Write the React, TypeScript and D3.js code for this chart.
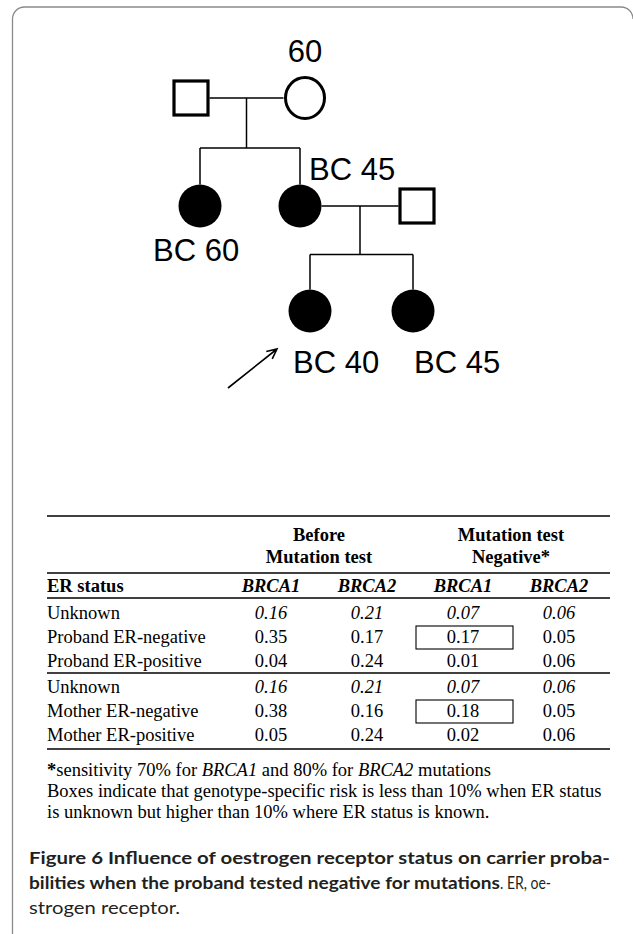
import React from "react";
import * as d3 from "d3";

// ---------- pedigree data ----------
const people = [
  { id: "gf", sex: "M", affected: false, label: "" },
  { id: "gm", sex: "F", affected: false, label: "60" },
  { id: "aunt", sex: "F", affected: true, label: "BC 60" },
  { id: "mother", sex: "F", affected: true, label: "BC 45" },
  { id: "father", sex: "M", affected: false, label: "" },
  { id: "proband", sex: "F", affected: true, label: "BC 40" },
  { id: "sister", sex: "F", affected: true, label: "BC 45" },
];
const couples = [
  { a: "gf", b: "gm", kids: ["aunt", "mother"] },
  { a: "mother", b: "father", kids: ["proband", "sister"] },
];
const probandId = "proband";

// ---------- table data ----------
const groupHeaders = [
  ["Before", "Mutation test"],
  ["Mutation test", "Negative*"],
];
const firstColHeader = "ER status";
const geneHeaders = ["BRCA1", "BRCA2", "BRCA1", "BRCA2"];
const rowLabels = [
  "Unknown",
  "Proband ER-negative",
  "Proband ER-positive",
  "Unknown",
  "Mother ER-negative",
  "Mother ER-positive",
];
const beforeBRCA1 = [0.16, 0.35, 0.04, 0.16, 0.38, 0.05];
const beforeBRCA2 = [0.21, 0.17, 0.24, 0.21, 0.16, 0.24];
const negBRCA1 = [0.07, 0.17, 0.01, 0.07, 0.18, 0.02];
const negBRCA2 = [0.06, 0.05, 0.06, 0.06, 0.05, 0.06];
const italicRows = [true, false, false, true, false, false];
const boxedCells = [
  [1, 2],
  [4, 2],
];

const footLines = [
  [
    { t: "*", b: true },
    { t: "sensitivity 70% for " },
    { t: "BRCA1", i: true },
    { t: " and 80% for " },
    { t: "BRCA2", i: true },
    { t: " mutations" },
  ],
  [{ t: "Boxes indicate that genotype-specific risk is less than 10% when ER status" }],
  [{ t: "is unknown but higher than 10% where ER status is known." }],
];

const captionBold1 = "Figure 6 Influence of oestrogen receptor status on carrier proba-";
const captionBold2 = "bilities when the proband tested negative for mutations";
const captionReg2 = ". ER, oe-";
const captionReg3 = "strogen receptor.";

// ---------- layout (abstract units -> scales) ----------
const layoutUnits: Record<string, [number, number]> = {
  gf: [0.91, 0],
  gm: [2.05, 0],
  aunt: [1.0, 1],
  mother: [2.0, 1],
  father: [3.17, 1],
  proband: [2.1, 2],
  sister: [3.13, 2],
};
const labelPlacement: Record<string, { dx: number; dy: number; anchor: string }> = {
  gm: { dx: 0, dy: -36, anchor: "middle" },
  aunt: { dx: -47, dy: 55, anchor: "start" },
  mother: { dx: 9, dy: -26, anchor: "start" },
  proband: { dx: -17, dy: 62, anchor: "start" },
  sister: { dx: 1, dy: 62, anchor: "start" },
};

const serif = "'Liberation Serif','Times New Roman',serif";
const sans = "'Liberation Sans',Arial,sans-serif";
const capFont = "Lato,'Open Sans','Noto Sans',sans-serif";

export default function App() {
  const x = d3.scaleLinear().domain([0, 4]).range([100, 500]);
  const y = d3.scaleOrdinal<number, number>().domain([0, 1, 2]).range([98, 206, 311]);
  const R = 21.5;
  const SQ = 34;
  const pos = (id: string) => {
    const [u, g] = layoutUnits[id];
    return { cx: x(u), cy: y(g) };
  };
  const byId = Object.fromEntries(people.map((p) => [p.id, p]));
  const halfW = (id: string) => (byId[id].sex === "M" ? SQ / 2 + 1.5 : R);

  const lines: any[] = [];
  couples.forEach((c, ci) => {
    const A = pos(c.a);
    const B = pos(c.b);
    const x1 = A.cx + halfW(c.a);
    const x2 = B.cx - halfW(c.b);
    const midX = (x1 + x2) / 2;
    const kids = c.kids.map(pos);
    const sibY = (A.cy + kids[0].cy) / 2 - 4;
    lines.push(<line key={"m" + ci} x1={x1} x2={x2} y1={A.cy} y2={A.cy} />);
    lines.push(<line key={"d" + ci} x1={midX} x2={midX} y1={A.cy} y2={sibY} />);
    lines.push(
      <line key={"s" + ci} x1={d3.min(kids, (k) => k.cx)} x2={d3.max(kids, (k) => k.cx)} y1={sibY} y2={sibY} />
    );
    kids.forEach((k, ki) =>
      lines.push(<line key={"k" + ci + ki} x1={k.cx} x2={k.cx} y1={sibY} y2={k.cy - R} />)
    );
  });

  const P = pos(probandId);
  const arrowStart = [P.cx - 82, P.cy + 77];
  const arrowEnd = [P.cx - 33, P.cy + 38];
  const ang = Math.atan2(arrowEnd[1] - arrowStart[1], arrowEnd[0] - arrowStart[0]);
  const headLen = 11;
  const arrowPath = d3.path();
  arrowPath.moveTo(arrowStart[0], arrowStart[1]);
  arrowPath.lineTo(arrowEnd[0], arrowEnd[1]);
  arrowPath.moveTo(arrowEnd[0] - headLen * Math.cos(ang - 0.45), arrowEnd[1] - headLen * Math.sin(ang - 0.45));
  arrowPath.lineTo(arrowEnd[0], arrowEnd[1]);
  arrowPath.lineTo(arrowEnd[0] - headLen * Math.cos(ang + 0.45), arrowEnd[1] - headLen * Math.sin(ang + 0.45));

  // ---- table scales ----
  const FS = 18.5;
  const tLeft = 47;
  const tRight = 610;
  const cols = ["b1", "b2", "n1", "n2"];
  const colX = d3.scalePoint<string>().domain(cols).range([271, 559]);
  const colVals = [beforeBRCA1, beforeBRCA2, negBRCA1, negBRCA2];
  const groupX = [(colX("b1")! + colX("b2")!) / 2, (colX("n1")! + colX("n2")!) / 2];
  const rowY = (i: number) => 619 + 24 * i + (i >= 3 ? 2 : 0);
  const fmt = d3.format(".2f");
  const rules = [516, 573, 598, 673, 749];

  return (
    <svg
      width={633}
      height={934}
      style={{ position: "absolute", left: 0, top: 0, display: "block", background: "#fff" }}
    >
      <path d="M12.5,934 V19 A12,12 0 0 1 24.5,7 H621 A12,12 0 0 1 633,19" fill="none" stroke="#8a8a8a" strokeWidth={1.3} />

      {/* pedigree */}
      <g stroke="#000" strokeWidth={1.5}>{lines}</g>
      {people.map((p) => {
        const { cx, cy } = pos(p.id);
        if (p.sex === "M")
          return (
            <rect key={p.id} x={cx - SQ / 2} y={cy - SQ / 2} width={SQ} height={SQ} fill="#fff" stroke="#000" strokeWidth={3.2} />
          );
        return p.affected ? (
          <circle key={p.id} cx={cx} cy={cy} r={R} fill="#000" />
        ) : (
          <ellipse key={p.id} cx={cx} cy={cy} rx={R - 2} ry={R - 1} fill="#fff" stroke="#000" strokeWidth={3} />
        );
      })}
      {people
        .filter((p) => p.label)
        .map((p) => {
          const { cx, cy } = pos(p.id);
          const lp = labelPlacement[p.id];
          return (
            <text key={"l" + p.id} x={cx + lp.dx} y={cy + lp.dy} textAnchor={lp.anchor as any} fontFamily={sans} fontSize={31} fill="#000">
              {p.label}
            </text>
          );
        })}
      <path d={arrowPath.toString()} fill="none" stroke="#000" strokeWidth={1.6} />

      {/* table */}
      <g fontFamily={serif} fontSize={FS} fill="#000">
        {rules.map((r, i) => (
          <line key={"r" + i} x1={tLeft} x2={tRight} y1={r} y2={r} stroke="#000" strokeWidth={1.4} />
        ))}
        {groupHeaders.map((gh, gi) =>
          gh.map((t, li) => (
            <text key={"gh" + gi + li} x={groupX[gi]} y={541 + li * 22} textAnchor="middle" fontWeight="bold">
              {t}
            </text>
          ))
        )}
        <text x={tLeft} y={592} fontWeight="bold">{firstColHeader}</text>
        {geneHeaders.map((g, i) => (
          <text key={"gn" + i} x={colX(cols[i])} y={592} textAnchor="middle" fontWeight="bold" fontStyle="italic">
            {g}
          </text>
        ))}
        {rowLabels.map((lab, ri) => (
          <g key={"row" + ri}>
            <text x={tLeft} y={rowY(ri)}>{lab}</text>
            {colVals.map((vals, ci) => (
              <text key={ci} x={colX(cols[ci])} y={rowY(ri)} textAnchor="middle" fontStyle={italicRows[ri] ? "italic" : "normal"}>
                {fmt(vals[ri])}
              </text>
            ))}
          </g>
        ))}
        {boxedCells.map(([ri, ci], i) => (
          <rect key={"bx" + i} x={colX(cols[ci])! - 47} y={rowY(ri) - 17} width={97} height={23} fill="none" stroke="#000" strokeWidth={1.1} />
        ))}
        {footLines.map((segs, li) => (
          <text key={"f" + li} x={tLeft} y={776 + li * 21}>
            {segs.map((s: any, si) => (
              <tspan key={si} fontWeight={s.b ? "bold" : "normal"} fontStyle={s.i ? "italic" : "normal"}>
                {s.t}
              </tspan>
            ))}
          </text>
        ))}
      </g>

      {/* caption */}
      <g fontFamily={capFont} fontSize={17} fill="#231f20">
        <text x={29} y={864} fontWeight="bold" textLength={581} lengthAdjust="spacingAndGlyphs">{captionBold1}</text>
        <text x={29} y={889} fontWeight="bold" textLength={471} lengthAdjust="spacingAndGlyphs">{captionBold2}</text>
        <text x={500} y={889} textLength={51} lengthAdjust="spacingAndGlyphs">{captionReg2}</text>
        <text x={29} y={914} textLength={151} lengthAdjust="spacingAndGlyphs">{captionReg3}</text>
      </g>
    </svg>
  );
}
